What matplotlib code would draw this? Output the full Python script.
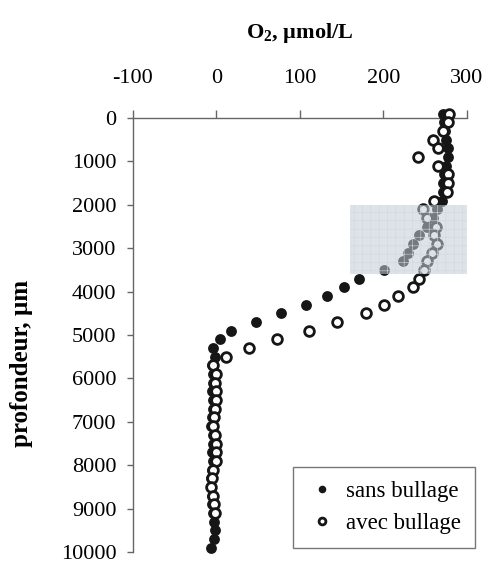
import matplotlib
matplotlib.use("Agg")
import matplotlib.pyplot as plt
from matplotlib.patches import Rectangle

plt.rcParams['font.family'] = ['Liberation Serif', 'DejaVu Serif']
plt.rcParams['mathtext.default'] = 'regular'
plt.rcParams['axes.unicode_minus'] = False
plt.rcParams['hatch.linewidth'] = 0.4

# profondeurs de mesure (µm)
depth = [-100, 100, 300, 500, 700, 900, 1100, 1300, 1500, 1700,
         1900, 2100, 2300, 2500, 2700, 2900, 3100, 3300, 3500, 3700,
         3900, 4100, 4300, 4500, 4700, 4900, 5100, 5300, 5500, 5700,
         5900, 6100, 6300, 6500, 6700, 6900, 7100, 7300, 7500, 7700,
         7900, 8100, 8300, 8500, 8700, 8900, 9100, 9300, 9500, 9700,
         9900]

# O2 (µmol/L) sans bullage
o2_sans = [272, 273, 274, 275, 277, 277, 275, 273, 272, 272,
           270, 264, 259, 252, 243, 235, 229, 223, 201, 171,
           153, 133, 107, 77, 47, 18, 4, -4, -2, -5,
           -4, -4, -5, -4, -4, -5, -6, -4, -4, -5,
           -4, -5, -6, -6, -5, -5, -4, -3, -2, -3,
           -6]

# O2 (µmol/L) avec bullage
o2_avec = [279, 278, 271, 259, 266, 241, 266, 277, 278, 276,
           261, 248, 252, 263, 261, 264, 258, 252, 249, 243,
           235, 218, 201, 179, 145, 111, 72, 39, 12, -4,
           -1, -2, -1, -1, -2, -3, -4, -2, -1, 0,
           -1, -4, -5, -6, -4, -3, -2]

# zone grisée
zone_o2 = [160, 300]
zone_depth = [2000, 3600]

fig = plt.figure(figsize=(4.88, 5.65), dpi=100)
ax = fig.add_axes([0.2725, 0.023, 0.684, 0.768])

ax.plot(o2_sans, depth[:len(o2_sans)], 'o', color='#161616', markersize=7.8,
        markeredgewidth=0, clip_on=False, zorder=3, label='sans bullage')
ax.plot(o2_avec, depth[:len(o2_avec)], 'o', markerfacecolor='white',
        markeredgecolor='#161616', markersize=7.0, markeredgewidth=2.0,
        clip_on=False, zorder=4, label='avec bullage')

ax.add_patch(Rectangle((zone_o2[0], zone_depth[0]), zone_o2[1] - zone_o2[0],
                       zone_depth[1] - zone_depth[0], facecolor='#c4ccd8',
                       edgecolor='none', alpha=0.55, zorder=5))
ax.add_patch(Rectangle((zone_o2[0], zone_depth[0]), zone_o2[1] - zone_o2[0],
                       zone_depth[1] - zone_depth[0], facecolor='none',
                       edgecolor='#d2d7df', linewidth=0, hatch='++', zorder=5))

ax.set_xlim(-100, 300)
ax.set_ylim(10000, 0)
ax.set_xticks([-100, 0, 100, 200, 300])
ax.set_yticks(range(0, 10001, 1000))

ax.xaxis.tick_top()
ax.xaxis.set_label_position('top')
for s in ['bottom', 'right']:
    ax.spines[s].set_visible(False)
for s in ['top', 'left']:
    ax.spines[s].set_color('#666666')
    ax.spines[s].set_linewidth(1.0)

ax.tick_params(axis='x', direction='out', length=6, width=1, color='#666666',
               pad=16, labelsize=16)
ax.tick_params(axis='y', direction='out', length=4, width=1, color='#666666',
               pad=8, labelsize=16)

ax.set_xlabel('O$_2$, µmol/L', fontsize=16, fontweight='bold', labelpad=22)
ax.set_ylabel('profondeur, µm', fontsize=18, fontweight='bold')
ax.yaxis.set_label_coords(-0.30, 0.435)

leg = ax.legend(loc='lower right', bbox_to_anchor=(0.973, 0.030),
                bbox_transform=fig.transFigure, fontsize=16.5, frameon=True,
                fancybox=False, edgecolor='#555555', markerscale=0.7,
                handletextpad=0.4, borderpad=0.6, labelspacing=0.5,
                handlelength=1.3, borderaxespad=0)
leg.get_frame().set_linewidth(1.0)
leg.set_zorder(6)

fig.savefig('out.png', dpi=100)
